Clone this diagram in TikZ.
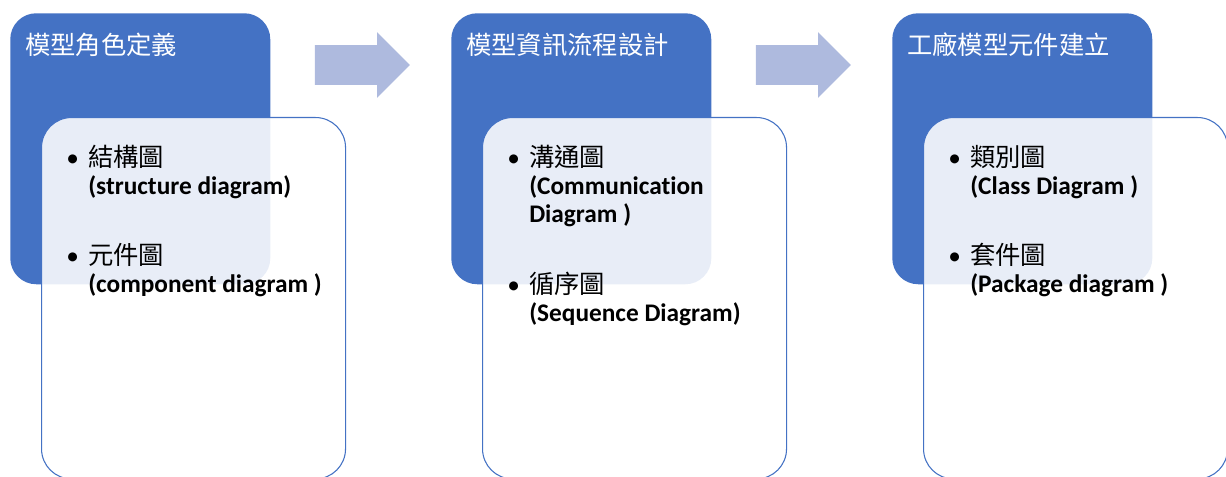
\documentclass[tikz,border=0pt]{standalone}
\usepackage{fontspec}
\setmainfont{Carlito}[Ligatures=NoCommon]
\newfontfamily\cjk{Noto Sans CJK TC}
\usepackage{array}
\usepackage{tikz}
\usetikzlibrary{shapes.arrows}
\definecolor{stageblue}{RGB}{68,114,196}
\definecolor{flowblue}{RGB}{174,186,222}

% bullet item: Chinese name, then the English name(s) in bold
\newcommand{\diagitem}[2]{%
  \begin{tabular}{@{}p{16.5pt}@{}>{\bfseries}l@{}}
    \textbullet & {\cjk\mdseries #1}\\
                & #2
  \end{tabular}}

\tikzset{
  stagebox/.style={rectangle, rounded corners=19.5pt, fill=stageblue, inner sep=0pt,
    minimum width=195pt, minimum height=203.25pt, anchor=north west},
  detailbox/.style={rectangle, rounded corners=22.5pt, draw=stageblue, line width=0.8pt,
    fill=white, fill opacity=0.88, inner sep=0pt,
    minimum width=228pt, minimum height=271pt, anchor=north west},
  stagetitle/.style={anchor=base west, inner sep=0pt, text=white,
    font=\cjk\fontsize{19}{21}\selectfont},
  itemtext/.style={anchor=north west, inner sep=0pt, font=\fontsize{19}{21}\selectfont},
  flowarrow/.style={single arrow, fill=flowblue, inner xsep=0pt, inner ysep=14.625pt,
    minimum height=71.25pt, single arrow head extend=9.75pt}
}

\begin{document}
\begin{tikzpicture}[x=0.75pt, y=-0.75pt]

  \useasboundingbox (0,0) rectangle (1226,477);

  % --- Riquadri blu (fasi) ---
  \node[stagebox] (stage1) at (10,13) {};
  \node[stagebox] (stage2) at (451,13) {};
  \node[stagebox] (stage3) at (892,13) {};

  % --- Riquadri chiari (diagrammi) ---
  \node[detailbox] (detail1) at (41,117) {};
  \node[detailbox] (detail2) at (482,117) {};
  \node[detailbox] (detail3) at (923,117) {};

  % --- Titoli ---
  \node[stagetitle] (title1) at (25,55) {模型角色定義};
  \node[stagetitle] (title2) at (466,55) {模型資訊流程設計};
  \node[stagetitle] (title3) at (907,55) {工廠模型元件建立};

  % --- Elenchi ---
  \node[itemtext] (item11) at (66,145) {\diagitem{結構圖}{(structure diagram)}};
  \node[itemtext] (item12) at (66,243) {\diagitem{元件圖}{(component diagram )}};
  \node[itemtext] (item21) at (507,145) {\diagitem{溝通圖}{(Communication\\ & Diagram )}};
  \node[itemtext] (item22) at (507,272) {\diagitem{循序圖}{(Sequence Diagram)}};
  \node[itemtext] (item31) at (948,145) {\diagitem{類別圖}{(Class Diagram )}};
  \node[itemtext] (item32) at (948,243) {\diagitem{套件圖}{(Package diagram )}};

  % --- Frecce tra le fasi ---
  \node[flowarrow] (flow12) at (352.5,65) {};
  \node[flowarrow] (flow23) at (793.5,65) {};

\end{tikzpicture}
\end{document}
